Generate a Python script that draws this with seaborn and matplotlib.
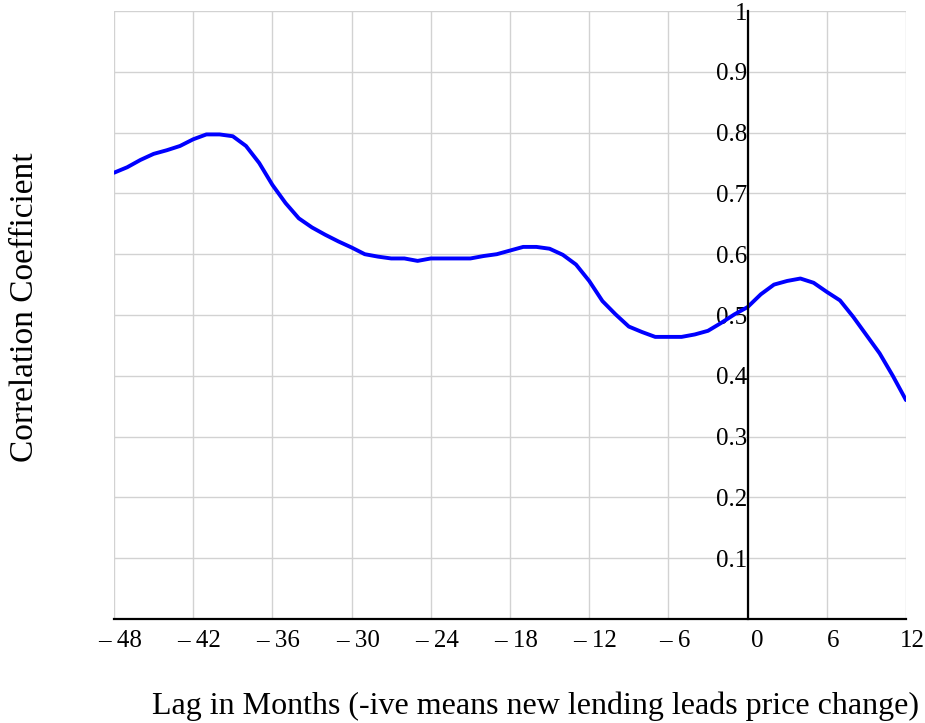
import matplotlib
matplotlib.use("Agg")
import matplotlib.pyplot as plt
from matplotlib.transforms import ScaledTranslation
import seaborn as sns
import pandas as pd

# Lag (months) and cross-correlation between new lending and price change
lags = list(range(-48, 13))
corr = [
    0.734, 0.743, 0.755, 0.765, 0.771, 0.778, 0.789, 0.797, 0.797, 0.794,  # -48..-39
    0.778, 0.750, 0.714, 0.684, 0.659, 0.644, 0.632, 0.621, 0.611, 0.600,  # -38..-29
    0.596, 0.593, 0.593, 0.589, 0.593, 0.593, 0.593, 0.593, 0.597, 0.600,  # -28..-19
    0.606, 0.612, 0.612, 0.609, 0.599, 0.583, 0.556, 0.523, 0.501, 0.481,  # -18..-9
    0.472, 0.464, 0.464, 0.464, 0.468, 0.474, 0.487, 0.501, 0.513, 0.534,  # -8..1
    0.550, 0.556, 0.560, 0.553, 0.538, 0.524, 0.497, 0.467, 0.437, 0.400,  # 2..11
    0.360,                                                                 # 12
]

x_ticks = [-48, -42, -36, -30, -24, -18, -12, -6, 0, 6, 12]
x_tick_labels = ["\u2013 48", "\u2013 42", "\u2013 36", "\u2013 30", "\u2013 24",
                 "\u2013 18", "\u2013 12", "\u2013 6", "0", "6", "12"]
y_ticks = [0.1, 0.2, 0.3, 0.4, 0.5, 0.6, 0.7, 0.8, 0.9, 1.0]
y_tick_labels = ["0.1", "0.2", "0.3", "0.4", "0.5", "0.6", "0.7", "0.8", "0.9", "1"]

df = pd.DataFrame({"lag": lags, "corr": corr})

sns.set_style("white")
plt.rcParams["font.family"] = ["Liberation Serif", "DejaVu Serif"]

fig = plt.figure(figsize=(9.25, 7.23), dpi=100)
ax = fig.add_axes([114 / 925, 1 - 619 / 723, 792 / 925, 608 / 723])

sns.lineplot(data=df, x="lag", y="corr", color="#0000ff", linewidth=2.8, ax=ax)

ax.set_xlim(-48, 12)
ax.set_ylim(0, 1)
ax.margins(0)

ax.set_xticks(x_ticks)
ax.set_xticklabels(x_tick_labels)
ax.set_yticks(y_ticks)
ax.set_yticklabels(y_tick_labels)

ax.grid(True, color="#d2d2d2", linewidth=1.0)
ax.set_axisbelow(True)

# axes cross at the origin
ax.spines["left"].set_position(("data", 0))
ax.spines["bottom"].set_position(("data", 0))
ax.spines["top"].set_visible(False)
ax.spines["right"].set_visible(False)
for side in ("left", "bottom"):
    ax.spines[side].set_color("black")
    ax.spines[side].set_linewidth(1.6)
    ax.spines[side].set_zorder(3)

ax.tick_params(axis="x", direction="inout", length=9, width=1.6, color="black",
               pad=3.5, labelsize=18, labelcolor="black")
ax.tick_params(axis="y", direction="in", length=5, width=1.6, color="black",
               pad=0, labelsize=18, labelcolor="black")

# x tick labels sit slightly right of their ticks
for lab, val in zip(ax.get_xticklabels(), x_ticks):
    dx = 10 if val == 0 else 6
    lab.set_transform(lab.get_transform() + ScaledTranslation(dx / 100, 0, fig.dpi_scale_trans))

ax.set_xlabel("Lag in Months (-ive means new lending leads price change)",
              fontsize=23, color="black")
ax.xaxis.label.set_va("center")
ax.xaxis.set_label_coords((535.5 - 114) / 792, (619 - 706) / 608)

fig.text(25 / 925, 1 - 307 / 723, "Correlation Coefficient", rotation=90,
         fontsize=24, ha="center", va="center", color="black")
ax.set_ylabel("")

fig.savefig("out.png", dpi=100)
